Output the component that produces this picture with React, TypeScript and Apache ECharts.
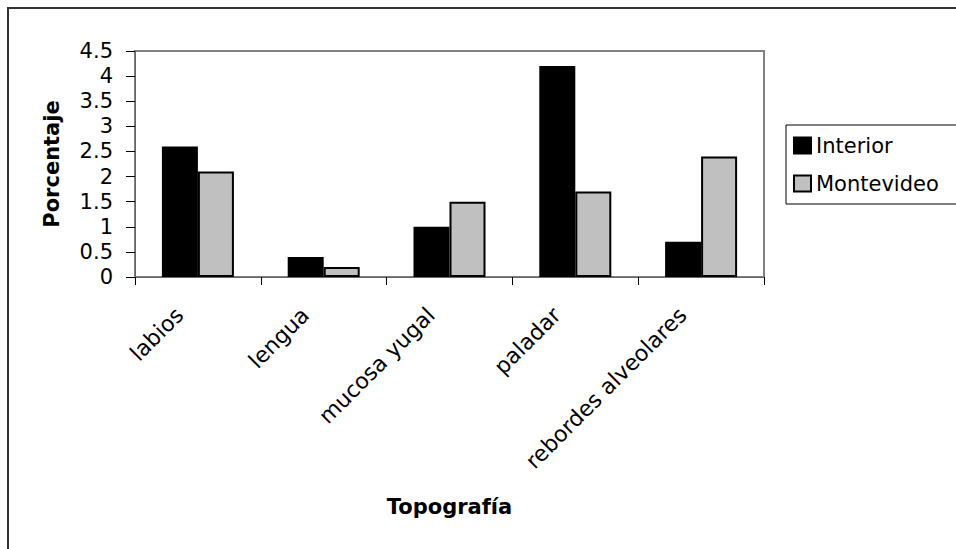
import React, { useEffect, useRef } from "react";
import * as echarts from "echarts";

const categories = ["labios", "lengua", "mucosa yugal", "paladar", "rebordes alveolares"];
const interior = [2.6, 0.4, 1.0, 4.2, 0.7];
const montevideo = [2.1, 0.2, 1.5, 1.7, 2.4];
const seriesNames = ["Interior", "Montevideo"];
const yTitle = "Porcentaje";
const xTitle = "Topografía";

const FONT = "DejaVu Sans";

export default function App() {
  const ref = useRef<HTMLDivElement>(null);
  useEffect(() => {
    if (!ref.current) return;
    const chart = echarts.init(ref.current, undefined, { renderer: "svg" });
    const barStyle = (color: string) => ({ color, borderColor: "#000", borderWidth: 2 });
    chart.setOption({
      animation: false,
      backgroundColor: "#fff",
      textStyle: { fontFamily: FONT },
      graphic: [
        {
          type: "rect",
          silent: true,
          z: -10,
          shape: { x: 8, y: 8, width: 1000, height: 1000 },
          style: { fill: "none", stroke: "#333", lineWidth: 2 },
        },
      ],
      grid: {
        left: 135,
        top: 51,
        width: 629,
        height: 226,
        show: true,
        borderColor: "#808080",
        borderWidth: 2,
        backgroundColor: "transparent",
      },
      legend: {
        orient: "vertical",
        left: 786,
        top: 125,
        padding: [10, 24, 10, 7],
        itemGap: 17,
        itemWidth: 17,
        itemHeight: 16,
        borderColor: "#000",
        borderWidth: 1,
        backgroundColor: "#fff",
        icon: "rect",
        textStyle: { fontFamily: FONT, fontSize: 21, color: "#000" },
        data: seriesNames,
      },
      xAxis: {
        type: "category",
        data: categories,
        axisLine: { show: true, lineStyle: { color: "#666", width: 1 } },
        axisTick: { show: true, length: 8, lineStyle: { color: "#000" } },
        axisLabel: {
          rotate: 45,
          margin: 16,
          padding: [0, 26, 0, 0],
          fontSize: 22,
          color: "#000",
          fontFamily: FONT,
          interval: 0,
        },
        splitLine: { show: false },
        name: xTitle,
        nameLocation: "middle",
        nameGap: 219,
        nameTextStyle: { fontFamily: FONT, fontSize: 21, fontWeight: "bold", color: "#000" },
      },
      yAxis: {
        type: "value",
        min: 0,
        max: 4.5,
        interval: 0.5,
        axisLine: { show: true, lineStyle: { color: "#666", width: 1 } },
        axisTick: { show: true, length: 9, lineStyle: { color: "#000" } },
        axisLabel: { margin: 22, fontSize: 21, color: "#000", fontFamily: FONT },
        splitLine: { show: false },
        name: yTitle,
        nameLocation: "middle",
        nameRotate: 90,
        nameGap: 73,
        nameTextStyle: { fontFamily: FONT, fontSize: 21, fontWeight: "bold", color: "#000" },
      },
      series: [
        {
          name: seriesNames[0],
          type: "bar",
          data: interior,
          barWidth: 36,
          barGap: "0%",
          itemStyle: barStyle("#000000"),
        },
        {
          name: seriesNames[1],
          type: "bar",
          data: montevideo,
          barWidth: 36,
          barGap: "0%",
          itemStyle: barStyle("#C0C0C0"),
        },
      ],
    });
    return () => chart.dispose();
  }, []);
  return (
    <div
      ref={ref}
      style={{ position: "fixed", left: 0, top: 0, width: 990, height: 549 }}
    />
  );
}
